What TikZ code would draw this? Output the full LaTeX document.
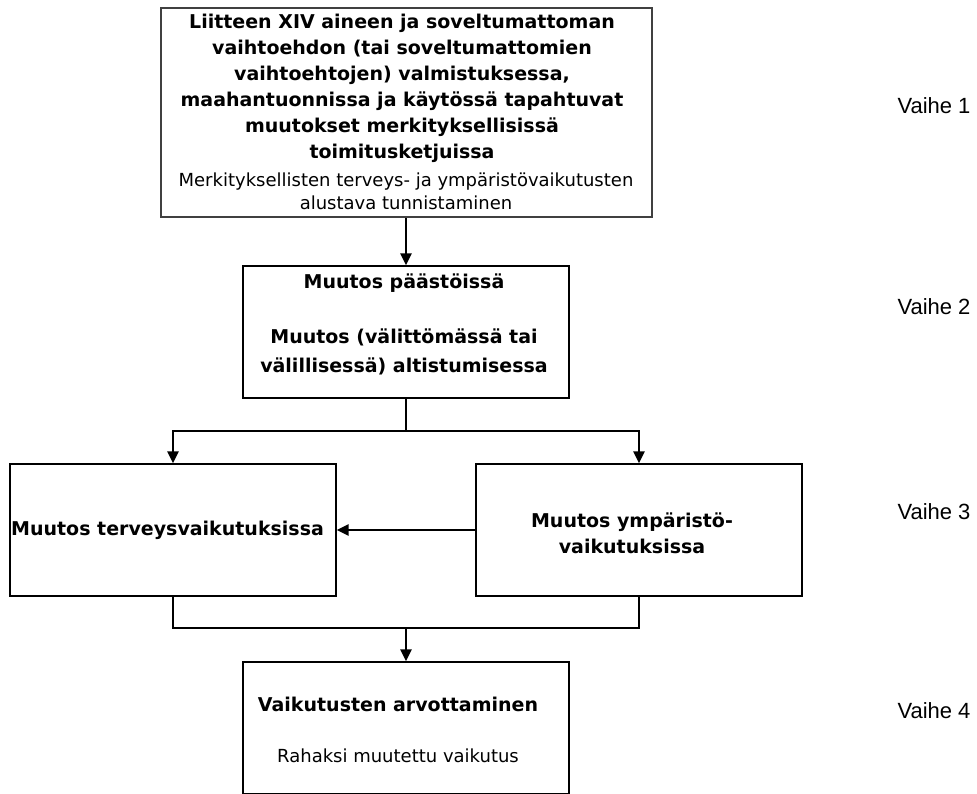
\documentclass[tikz,border=0pt]{standalone}
\usepackage{fontspec}
\setmainfont{DejaVu Sans}
\newfontfamily\stagefont{Liberation Sans}
\usetikzlibrary{arrows.meta}
\begin{document}
\begin{tikzpicture}[x=1pt,y=-1pt,
  box/.style={draw=black, line width=1.3pt, minimum width=326pt, minimum height=132pt, inner sep=0pt},
  topbox/.style={draw=black!75, line width=2pt, minimum width=491pt, minimum height=209pt, inner sep=0pt},
  boldtxt/.style={inner sep=0pt, align=center, font=\fontsize{19}{26}\selectfont\bfseries},
  plaintxt/.style={inner sep=0pt, align=center, font=\fontsize{18}{23}\selectfont},
  stage/.style={inner sep=0pt, font=\stagefont\fontsize{22}{26}\selectfont},
  wire/.style={line width=2.5pt, line join=miter},
  conn/.style={wire, -{Triangle[width=11pt,length=12pt]}}]
\useasboundingbox (0,0) rectangle (977,793);

% boxes
\node[topbox] (b1) at (406,112.5) {};
\node[box] (b2) at (406,332) {};
\node[box] (b3l) at (173,530) {};
\node[box] (b3r) at (639,530) {};
\node[box] (b4) at (406,728) {};

% box texts
\node[boldtxt] (t1a) at (402,88) {Liitteen XIV aineen ja soveltumattoman\\vaihtoehdon (tai soveltumattomien\\vaihtoehtojen) valmistuksessa,\\maahantuonnissa ja käytössä tapahtuvat\\muutokset merkityksellisissä\\toimitusketjuissa};
\node[plaintxt] (t1b) at (406,191.5) {Merkityksellisten terveys- ja ympäristövaikutusten\\alustava tunnistaminen};
\node[boldtxt] (t2a) at (404,283) {Muutos päästöissä};
\node[boldtxt, font=\fontsize{19}{29}\selectfont\bfseries] (t2b) at (404,352) {Muutos (välittömässä tai\\välillisessä) altistumisessa};
\node[boldtxt, anchor=west] (t3l) at (11,530) {Muutos terveysvaikutuksissa};
\node[boldtxt] (t3r) at (632,533) {Muutos ympäristö-\\vaikutuksissa};
\node[boldtxt] (t4a) at (398,704) {Vaikutusten arvottaminen};
\node[plaintxt] (t4b) at (398,756) {Rahaksi muutettu vaikutus};

% stage labels
\node[stage] (s1) at (934,106) {Vaihe 1};
\node[stage] (s2) at (934,307) {Vaihe 2};
\node[stage] (s3) at (934,512) {Vaihe 3};
\node[stage] (s4) at (934,711) {Vaihe 4};

% connectors
\coordinate (split) at (406,431);
\coordinate (join) at (406,628);
\draw[conn] (b1.south) -- (b2.north);
\draw[wire] (b2.south) -- (split);
\draw[conn] (split) -| (b3l.north);
\draw[conn] (split) -| (b3r.north);
\draw[conn] (b3r.west) -- (b3l.east);
\draw[wire] (b3l.south) |- (join);
\draw[wire] (b3r.south) |- (join);
\draw[conn] (join) -- (b4.north);
\end{tikzpicture}
\end{document}
